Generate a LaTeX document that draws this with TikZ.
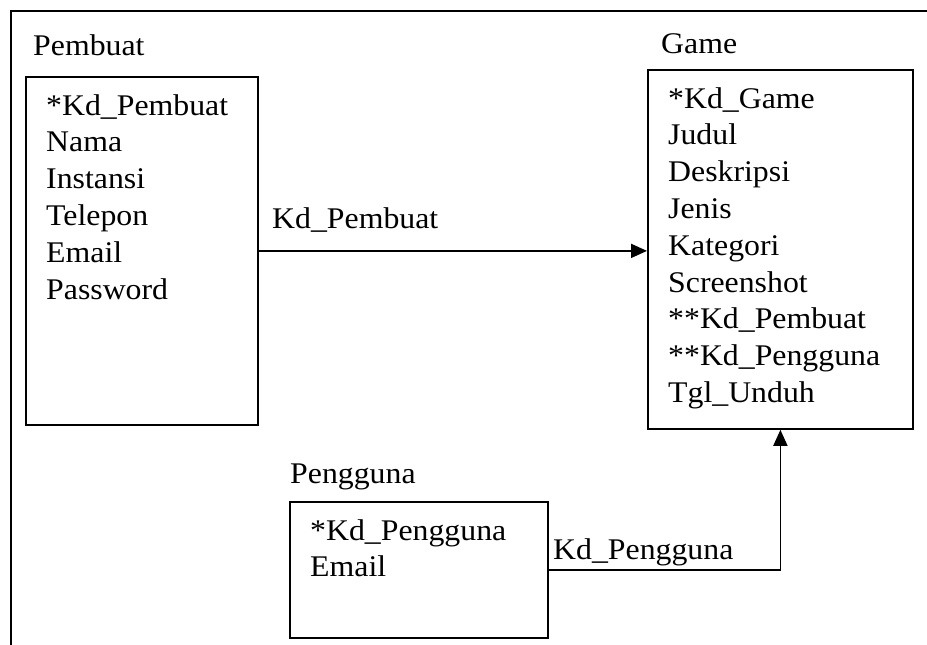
\documentclass[tikz,border=0pt]{standalone}
\usepackage{fontspec}
\setmainfont{Liberation Serif}
\usetikzlibrary{arrows.meta,positioning}

\tikzset{
	entity/.style={draw, line width=1.8pt, inner sep=0pt, anchor=north west},
	txt/.style={font=\fontsize{30}{36.8}\selectfont, inner sep=0pt, xscale=1.06},
	attrs/.style={txt, align=left, below right=18pt and 21pt of #1.north west},
	rel/.style={line width=1.8pt, -{Triangle[length=16pt, width=14pt]}}
}

\begin{document}
\begin{tikzpicture}[x=1pt, y=-1pt]
		\useasboundingbox (0,0) rectangle (927,645);
		\draw[line width=1.8pt] (11,645) -- (11,11) -- (927,11);
		% tabel
		\node[entity, minimum width=232pt, minimum height=348pt] (pembuat) at (25,76) {};
		\node[entity, minimum width=265pt, minimum height=359pt] (game) at (647,69) {};
		\node[entity, minimum width=258pt, minimum height=136pt] (pengguna) at (289,501) {};
		\node[txt, anchor=base west] (tpembuat) at (33,55) {Pembuat};
		\node[txt, anchor=base west] (tgame) at (661,53) {Game};
		\node[txt, anchor=base west] (tpengguna) at (290,483) {Pengguna};
		\node[attrs=pembuat] (apembuat) {*Kd\_Pembuat\\Nama\\Instansi\\Telepon\\Email\\Password};
		\node[attrs=game] (agame) {*Kd\_Game\\Judul\\Deskripsi\\Jenis\\Kategori\\Screenshot\\**Kd\_Pembuat\\**Kd\_Pengguna\\Tgl\_Unduh};
		\node[attrs=pengguna] (apengguna) {*Kd\_Pengguna\\Email};
		% relasi
		\draw[rel] (pembuat.east) -- (pembuat.east -| game.west);
		\draw[rel] (pengguna.east) -| (game.south);
		\node[txt, anchor=base west] (kpembuat) at (272,228) {Kd\_Pembuat};
		\node[txt, anchor=base west] (kpengguna) at (553,559) {Kd\_Pengguna};
\end{tikzpicture}
\end{document}
